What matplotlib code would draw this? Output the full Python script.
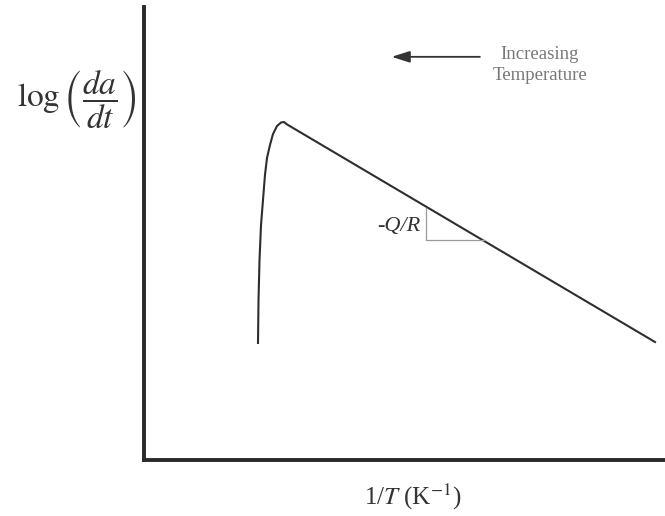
import matplotlib.pyplot as plt

plt.rcParams["font.family"] = "Liberation Serif"
plt.rcParams["mathtext.fontset"] = "stix"

# schematic Arrhenius curve, arbitrary units (0-10 on both axes)
inv_T = [2.188, 2.198, 2.217, 2.246, 2.284, 2.322, 2.361, 2.418, 2.476,
         2.553, 2.630, 2.687, 2.745, 9.808]
log_rate = [2.583, 3.532, 4.415, 5.188, 5.740, 6.291, 6.667, 6.954, 7.196,
            7.373, 7.450, 7.461, 7.408, 2.605]

# slope triangle corners
tri_x = [5.42, 5.42, 6.55]
tri_y = [5.57, 4.86, 4.86]

fig = plt.figure(figsize=(6.65, 5.16), dpi=100)
ax = fig.add_axes([144 / 665, 56 / 516, 521 / 665, 453 / 516])
ax.set_xlim(0, 10)
ax.set_ylim(0, 10)

ax.plot(inv_T, log_rate, color="#2e2e2e", lw=1.5)
ax.plot(tri_x, tri_y, color="#9a9a9a", lw=0.9)
ax.text(5.3, 5.15, "-Q/R", style="italic", fontsize=16, ha="right",
        va="center", color="#333333")

ax.annotate("", xy=(4.7, 8.9), xytext=(6.5, 8.9),
            arrowprops=dict(arrowstyle="-|>,head_length=1.1,head_width=0.35",
                            color="#333333", lw=1.3))
ax.text(7.6, 8.72, "Increasing\nTemperature", fontsize=13.5, ha="center",
        va="center", color="#777777", linespacing=1.3)

for side in ["top", "right"]:
    ax.spines[side].set_visible(False)
for side in ["left", "bottom"]:
    ax.spines[side].set_linewidth(2.8)
    ax.spines[side].set_color("#2a2a2a")
ax.set_xticks([])
ax.set_yticks([])

fig.text(413 / 665, 1 - 497 / 516, r"1/$T$ (K$^{-1}$)", fontsize=18,
         ha="center", va="center", color="#333333")
fig.text(77 / 665, 1 - 100 / 516, r"$\log\left(\dfrac{da}{dt}\right)$",
         fontsize=24, ha="center", va="center", color="#333333")

fig.savefig("out.png", dpi=100)
